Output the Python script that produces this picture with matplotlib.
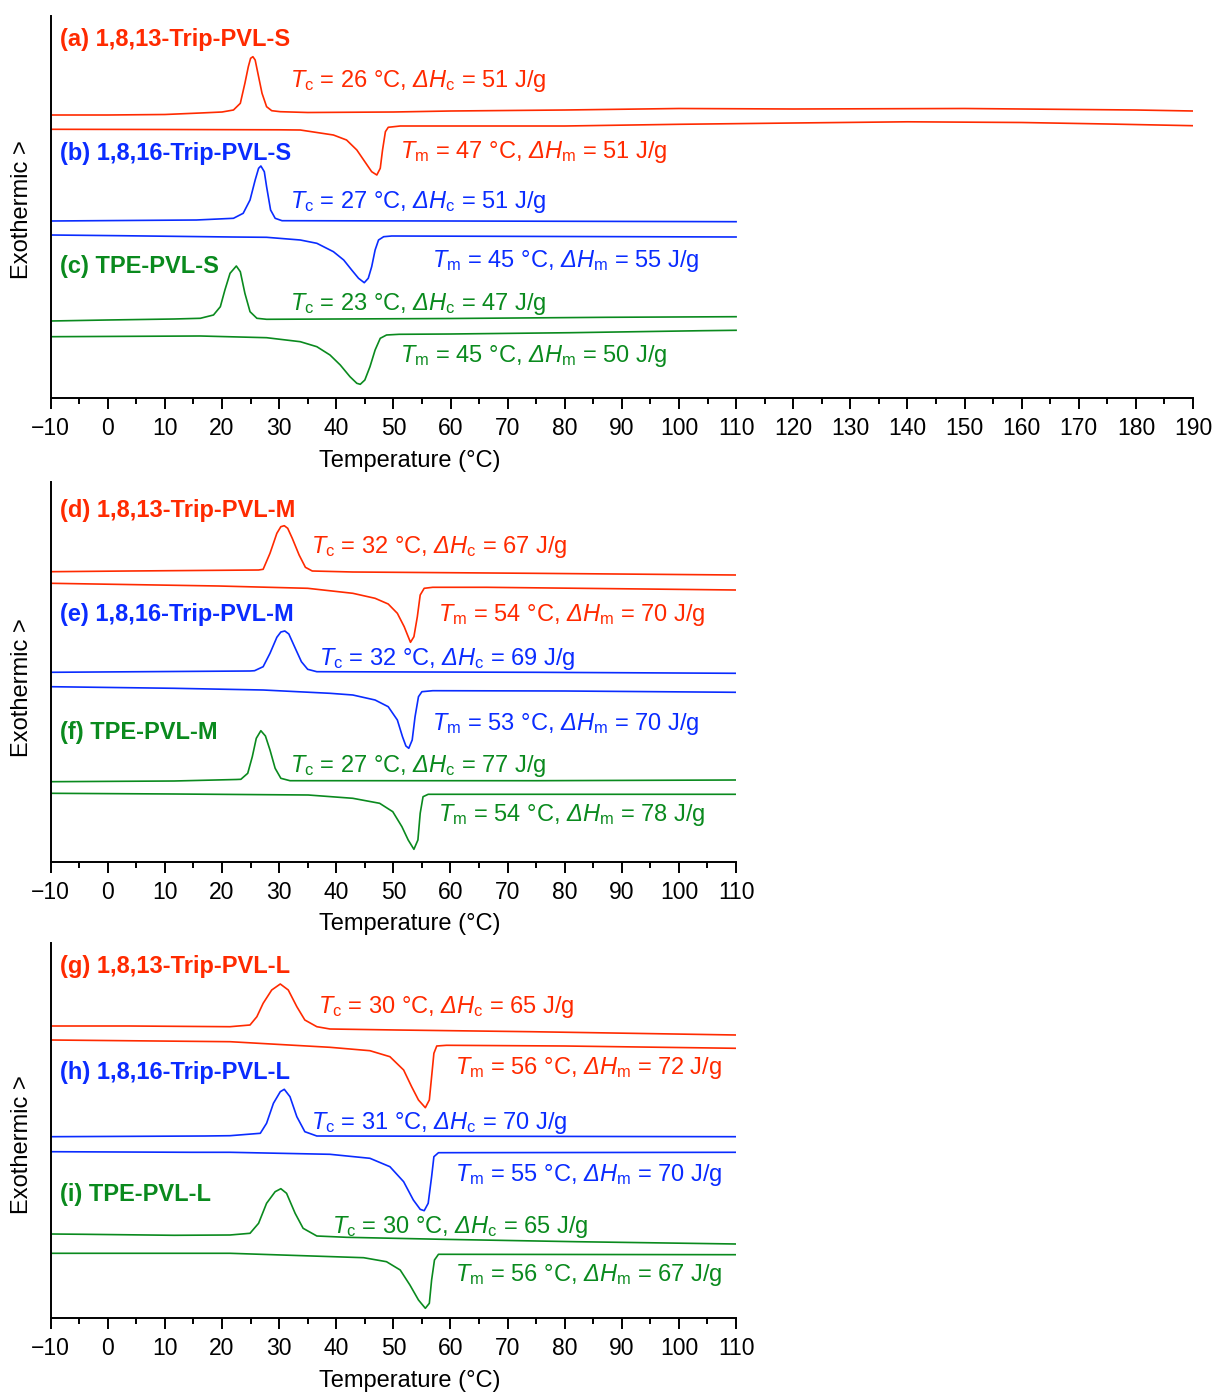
import numpy as np
import matplotlib
matplotlib.use("Agg")
import matplotlib.pyplot as plt
from matplotlib.ticker import MultipleLocator

plt.rcParams['font.family'] = ['Liberation Sans', 'DejaVu Sans']
plt.rcParams['mathtext.fontset'] = 'custom'
plt.rcParams['mathtext.rm'] = 'Liberation Sans'
plt.rcParams['mathtext.it'] = 'Liberation Sans:italic'
plt.rcParams['mathtext.sf'] = 'Liberation Sans:italic'
plt.rcParams['mathtext.bf'] = 'Liberation Sans:bold'

RED = '#ff2a00'
BLUE = '#0a2cff'
GREEN = '#0a8a1e'

# ---- panel 1 (S series), signal in arbitrary units, exo up ----
a_cool_T = [-10, 0, 10, 16.2, 20, 22, 23.2, 24.0, 24.6, 25.0, 25.4, 25.8, 26.4, 27.0, 27.8, 28.7, 30.2, 35, 50, 60, 80, 100, 120, 150, 170, 180, 190]
a_cool_y = [283, 283, 283.5, 285, 286, 288, 294.7, 314.7, 331.3, 339.7, 341.3, 338, 321.3, 304.7, 291.3, 287.3, 286.3, 285.5, 286, 287, 288, 289.5, 289, 289.5, 288.5, 288, 287]
a_heat_T = [-10, 10, 30, 33.7, 39.5, 41.8, 43.6, 45.0, 46.2, 47.1, 47.7, 48.1, 48.6, 49.1, 51.2, 80, 100, 120, 140, 160, 175, 190]
a_heat_y = [268.7, 268.5, 268.2, 268, 263, 258, 248, 236.3, 226.3, 223, 229.7, 248, 266.3, 270.7, 272, 272, 273.7, 275, 276.2, 275.5, 274, 272.3]

b_cool_T = [-10, 15.5, 22.0, 23.7, 24.9, 25.8, 26.4, 26.8, 27.4, 27.8, 28.5, 29.3, 30.5, 60, 110]
b_cool_y = [177, 178, 179.7, 184.7, 198, 218, 229.7, 232, 226.3, 211.3, 188, 179.7, 177.3, 177, 176.3]
b_heat_T = [-10, 2.2, 21.7, 27.8, 33.7, 36.6, 39.5, 41.3, 42.7, 43.9, 44.9, 45.6, 46.2, 46.8, 47.4, 48.3, 49.7, 110]
b_heat_y = [163, 162.3, 161, 160.7, 158, 154.7, 146.3, 138, 128, 119.7, 115.3, 119.7, 131.3, 148, 158, 161.3, 162, 161]

c_cool_T = [-10, -0.1, 11.6, 16.2, 18.5, 19.7, 20.5, 21.4, 22.5, 23.2, 24.0, 24.9, 26.1, 27.8, 60, 87.4, 110]
c_cool_y = [77, 78, 79, 79.7, 83, 91.3, 108, 124.7, 132, 126.3, 104.7, 86.3, 79.7, 78.7, 79.5, 80.7, 81.3]
c_heat_T = [-10, 16.2, 27.8, 33.7, 36.6, 38.9, 40.7, 42.4, 43.6, 44.2, 45.0, 45.9, 46.8, 47.7, 48.8, 51, 60, 81, 104, 110]
c_heat_y = [61.3, 62, 60.3, 56.3, 51.3, 43, 33, 21.3, 14.7, 13.7, 18, 31.3, 48, 59.7, 63, 63.7, 64, 65.3, 67.3, 67.7]

# ---- panel 2 (M series) ----
d_cool_T = [-10, 3.7, 26.4, 27.2, 28.4, 29.6, 30.3, 30.9, 31.5, 32.3, 33.5, 34.6, 35.8, 42.9, 74.1, 110]
d_cool_y = [290.3, 291, 292, 292.7, 308.7, 328.7, 335.3, 336.3, 333.7, 323.7, 307, 294.7, 291, 290, 288.7, 287]
d_heat_T = [-10, 19.4, 35, 42.9, 46.8, 49.1, 50.7, 51.9, 52.6, 53.0, 53.6, 54.2, 54.7, 55.4, 56.9, 66.3, 110]
d_heat_y = [278.7, 276, 273.7, 268.7, 263.7, 258, 248.7, 235.3, 225.3, 219.7, 225.3, 245.3, 267, 273.7, 274.7, 274.7, 272]

e_cool_T = [-10, 24.9, 25.7, 27.2, 28.4, 29.6, 30.3, 31.0, 31.7, 32.7, 33.9, 35.0, 36.6, 75, 110]
e_cool_y = [189.7, 191, 191.3, 195.3, 208.7, 224.7, 230, 231, 228, 215.3, 200.3, 192.7, 190.3, 189.7, 188.7]
e_heat_T = [-10, 11.6, 27.2, 38.9, 42.9, 46.8, 49.1, 50.7, 51.6, 52.2, 52.7, 53.3, 53.8, 54.4, 55.0, 56.9, 80, 110]
e_heat_y = [175.3, 173.7, 172, 168.7, 167, 162, 155.3, 142, 125.3, 116, 113.7, 122, 145.3, 165.3, 170.3, 171.3, 171, 169.7]

f_cool_T = [-10, 11.6, 22.5, 23.3, 24.5, 25.3, 26.0, 26.8, 27.6, 28.4, 29.3, 30.3, 31.9, 75, 110]
f_cool_y = [80.3, 81, 82.5, 82.7, 88.7, 105.3, 123.7, 131.3, 126, 112, 93.7, 83.7, 81.3, 81.3, 82]
f_heat_T = [-10, 11.6, 35.1, 42.9, 47.6, 49.9, 51.5, 52.6, 53.6, 54.3, 54.7, 55.2, 56.1, 75, 110]
f_heat_y = [68.7, 68, 67, 63.7, 58.7, 50.3, 35.3, 22, 12.7, 22, 48.7, 65.3, 67.7, 67.7, 67.7]

# ---- panel 3 (L series) ----
g_cool_T = [-10, 3.7, 21.4, 24.9, 26.1, 27.2, 28.7, 30.2, 31.6, 33.1, 34.5, 36.6, 38.9, 50.6, 74.1, 110]
g_cool_y = [292, 292, 291.3, 293, 301.3, 314.7, 328, 334, 328, 311.3, 298, 291.3, 289, 288, 286.3, 283]
g_heat_T = [-10, 21.4, 38.9, 45.9, 49.4, 51.8, 53.2, 54.4, 55.6, 56.3, 56.7, 57.1, 57.6, 59.3, 80, 110]
g_heat_y = [278, 276.3, 270.7, 267.3, 261.3, 248, 231.3, 218, 210.3, 218, 241.3, 264.7, 272, 272.7, 272, 269.7]

h_cool_T = [-10, 17, 21.4, 26.7, 27.8, 29.0, 30.2, 30.9, 31.9, 33.1, 34.5, 36.6, 110]
h_cool_y = [181.3, 182, 182.3, 184.7, 194.7, 214.7, 226.3, 228.7, 221.3, 201.3, 186.3, 182, 181.3]
h_heat_T = [-10, 14.7, 21.4, 38.9, 45.9, 49.4, 51.8, 53.5, 54.7, 55.4, 56.1, 56.7, 57.1, 57.9, 110]
h_heat_y = [166.3, 165.7, 165.7, 163.7, 159.7, 151.3, 136.3, 118, 108.7, 107.3, 114.7, 141.3, 161.3, 165.3, 165.7]

i_cool_T = [-10, -4.1, 11.6, 21.4, 24.9, 26.4, 27.8, 29.3, 30.3, 31.3, 32.8, 34.2, 36.6, 41.8, 58.5, 82, 110]
i_cool_y = [84, 83.7, 82.7, 83, 84.7, 94.7, 114.7, 126.3, 129.3, 124.7, 104.7, 89.7, 82, 80.7, 78.7, 76.3, 74]
i_heat_T = [-10, 21.4, 44.8, 48.8, 51.2, 52.9, 54.4, 55.6, 56.3, 56.7, 57.2, 57.9, 110]
i_heat_y = [64.7, 64.7, 60.3, 56.3, 48, 33, 18, 9.7, 14.7, 38, 58, 63.7, 63.3]

names = [['(a) 1,8,13-Trip-PVL-S', '(b) 1,8,16-Trip-PVL-S', '(c) TPE-PVL-S'],
         ['(d) 1,8,13-Trip-PVL-M', '(e) 1,8,16-Trip-PVL-M', '(f) TPE-PVL-M'],
         ['(g) 1,8,13-Trip-PVL-L', '(h) 1,8,16-Trip-PVL-L', '(i) TPE-PVL-L']]
Tc = [[26, 27, 23], [32, 32, 27], [30, 31, 30]]
dHc = [[51, 51, 47], [67, 69, 77], [65, 70, 65]]
Tm = [[47, 45, 45], [54, 53, 54], [56, 55, 56]]
dHm = [[51, 55, 50], [70, 70, 78], [72, 70, 67]]

curves = [
    [(a_cool_T, a_cool_y, a_heat_T, a_heat_y), (b_cool_T, b_cool_y, b_heat_T, b_heat_y), (c_cool_T, c_cool_y, c_heat_T, c_heat_y)],
    [(d_cool_T, d_cool_y, d_heat_T, d_heat_y), (e_cool_T, e_cool_y, e_heat_T, e_heat_y), (f_cool_T, f_cool_y, f_heat_T, f_heat_y)],
    [(g_cool_T, g_cool_y, g_heat_T, g_heat_y), (h_cool_T, h_cool_y, h_heat_T, h_heat_y), (i_cool_T, i_cool_y, i_heat_T, i_heat_y)],
]
colors = [RED, BLUE, GREEN]

W, H = 1213, 1392
fig = plt.figure(figsize=(W / 100, H / 100), dpi=100)

# axes boxes in pixels: left, top, right, bottom
boxes = [(50.7, 16, 1193, 398), (50.7, 482, 736, 862), (50.7, 943, 736, 1318)]
xmax = [190, 110, 110]

# text placement (T, height) for name, Tc label, Tm label
name_pos = [[(-8.4, 359), (-8.4, 245), (-8.4, 131)],
            [(-8.4, 351), (-8.4, 247), (-8.4, 129)],
            [(-8.4, 352), (-8.4, 246), (-8.4, 124)]]
tc_pos = [[(31.9, 317), (31.9, 196), (31.9, 94)],
          [(35.6, 315), (37.0, 203), (31.9, 96)],
          [(36.8, 311), (35.6, 195), (39.3, 91)]]
tm_pos = [[(51.2, 246), (56.8, 137), (51.2, 42)],
          [(57.8, 247), (56.8, 138), (57.8, 47)],
          [(60.8, 250), (60.8, 143), (60.8, 43)]]
ylabel_y = [210, 688, 1145]
xlabel_y = [461, 924, 1381]

for p, (l, t, r, b) in enumerate(boxes):
    ax = fig.add_axes([l / W, 1 - b / H, (r - l) / W, (b - t) / H])
    for k in range(3):
        cT, cy, hT, hy = curves[p][k]
        ax.plot(cT, cy, color=colors[k], lw=1.2)
        ax.plot(hT, hy, color=colors[k], lw=1.2)
        ax.text(*name_pos[p][k], names[p][k], color=colors[k], fontsize=17,
                fontweight='bold', ha='left', va='center')
        ax.text(*tc_pos[p][k],
                r'$\mathit{T}_\mathrm{c}$ = %d °C, $\mathsf{Δ}\mathit{H}_\mathrm{c}$ = %d J/g' % (Tc[p][k], dHc[p][k]),
                color=colors[k], fontsize=17, ha='left', va='center')
        ax.text(*tm_pos[p][k],
                r'$\mathit{T}_\mathrm{m}$ = %d °C, $\mathsf{Δ}\mathit{H}_\mathrm{m}$ = %d J/g' % (Tm[p][k], dHm[p][k]),
                color=colors[k], fontsize=17, ha='left', va='center')
    ax.set_xlim(-10, xmax[p])
    ax.set_ylim(0, b - t)
    ax.xaxis.set_major_locator(MultipleLocator(10))
    ax.xaxis.set_minor_locator(MultipleLocator(5))
    ax.tick_params(axis='x', which='major', length=8, width=1.4, direction='out', labelsize=16.5, pad=5.5)
    ax.tick_params(axis='x', which='minor', length=4, width=1.4, direction='out')
    ax.set_yticks([])
    for s in ['top', 'right']:
        ax.spines[s].set_visible(False)
    for s in ['left', 'bottom']:
        ax.spines[s].set_linewidth(1.4)
    ax.patch.set_alpha(0)
    fig.text(22 / W, 1 - ylabel_y[p] / H, 'Exothermic >', rotation=90, fontsize=17,
             ha='center', va='center')
    fig.text(410 / W, 1 - xlabel_y[p] / H, 'Temperature (°C)', fontsize=17,
             ha='center', va='center')

fig.savefig('out.png', dpi=100)
